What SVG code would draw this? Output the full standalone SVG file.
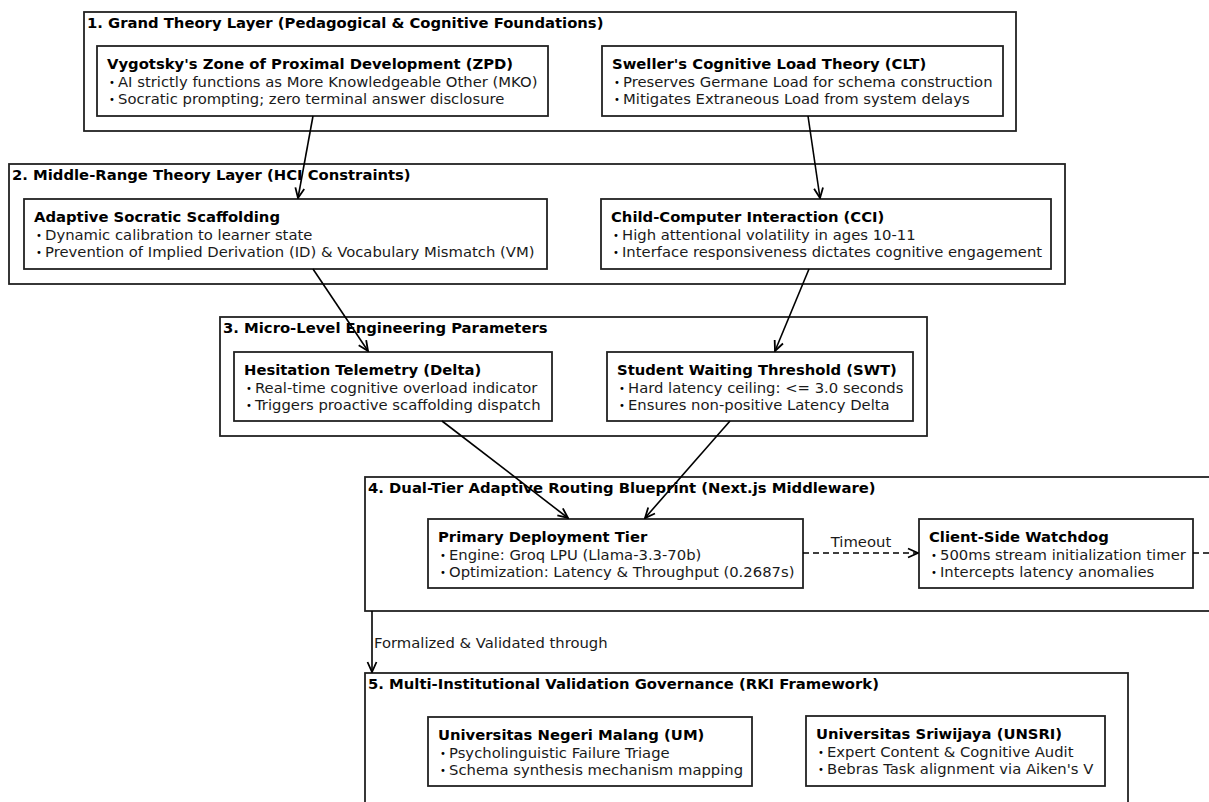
<svg xmlns="http://www.w3.org/2000/svg" width="1209" height="802" viewBox="0 0 1209 802">
<defs>
<style>
.layer{fill:#fff;stroke:#222;stroke-width:1.8}
.box{fill:#fff;stroke:#222;stroke-width:1.8}
.lt{font-family:"DejaVu Sans",sans-serif;font-size:14.8px;font-weight:bold;fill:#000}
.bt{font-family:"DejaVu Sans",sans-serif;font-size:14.8px;font-weight:bold;fill:#000}
.tx{font-family:"DejaVu Sans",sans-serif;font-size:14.8px;fill:#1a1a1a}
.bu{font-family:"DejaVu Sans",sans-serif;font-size:10px;fill:#000}
.edge{fill:none;stroke:#000;stroke-width:1.6}
.dash{stroke-dasharray:6,4}
.el{font-family:"DejaVu Sans",sans-serif;font-size:14.8px;fill:#1a1a1a}
</style>
<marker id="arr" viewBox="0 0 12 12" refX="11" refY="6" markerWidth="12" markerHeight="12" markerUnits="userSpaceOnUse" orient="auto">
<path d="M1,1.5 L11,6 L1,10.5" fill="none" stroke="#000" stroke-width="1.8"/>
</marker>
</defs>
<rect width="1209" height="802" fill="#fff"/>

<g id="layer1">
<rect class="layer" x="84" y="12" width="932" height="119"/>
<text class="lt" x="87" y="28">1. Grand Theory Layer (Pedagogical &amp; Cognitive Foundations)</text>
</g>
<g id="layer2">
<rect class="layer" x="9" y="164" width="1056" height="120"/>
<text class="lt" x="12" y="180">2. Middle-Range Theory Layer (HCI Constraints)</text>
</g>
<g id="layer3">
<rect class="layer" x="220" y="317" width="707" height="119"/>
<text class="lt" x="223" y="333">3. Micro-Level Engineering Parameters</text>
</g>
<g id="layer4">
<rect class="layer" x="365" y="477" width="870" height="134"/>
<text class="lt" x="368" y="493">4. Dual-Tier Adaptive Routing Blueprint (Next.js Middleware)</text>
</g>
<g id="layer5">
<rect class="layer" x="365" y="673" width="763" height="160"/>
<text class="lt" x="368" y="689">5. Multi-Institutional Validation Governance (RKI Framework)</text>
</g>

<g id="zpd">
<rect class="box" x="97" y="46" width="451" height="70"/>
<text class="bt" x="107" y="69">Vygotsky's Zone of Proximal Development (ZPD)</text>
<text class="bu" x="109" y="86">•</text><text class="tx" x="118" y="87">AI strictly functions as More Knowledgeable Other (MKO)</text>
<text class="bu" x="109" y="103">•</text><text class="tx" x="118" y="104">Socratic prompting; zero terminal answer disclosure</text>
</g>
<g id="clt">
<rect class="box" x="602" y="46" width="401" height="70"/>
<text class="bt" x="612" y="69">Sweller's Cognitive Load Theory (CLT)</text>
<text class="bu" x="614" y="86">•</text><text class="tx" x="623" y="87">Preserves Germane Load for schema construction</text>
<text class="bu" x="614" y="103">•</text><text class="tx" x="623" y="104">Mitigates Extraneous Load from system delays</text>
</g>
<g id="scaffolding">
<rect class="box" x="24" y="199" width="523" height="70"/>
<text class="bt" x="34" y="222">Adaptive Socratic Scaffolding</text>
<text class="bu" x="36" y="239">•</text><text class="tx" x="45" y="240">Dynamic calibration to learner state</text>
<text class="bu" x="36" y="256">•</text><text class="tx" x="45" y="257">Prevention of Implied Derivation (ID) &amp; Vocabulary Mismatch (VM)</text>
</g>
<g id="cci">
<rect class="box" x="601" y="199" width="450" height="70"/>
<text class="bt" x="611" y="222">Child-Computer Interaction (CCI)</text>
<text class="bu" x="613" y="239">•</text><text class="tx" x="622" y="240">High attentional volatility in ages 10-11</text>
<text class="bu" x="613" y="256">•</text><text class="tx" x="622" y="257">Interface responsiveness dictates cognitive engagement</text>
</g>
<g id="hesitation">
<rect class="box" x="234" y="352" width="318" height="69"/>
<text class="bt" x="244" y="375">Hesitation Telemetry (Delta)</text>
<text class="bu" x="246" y="392">•</text><text class="tx" x="255" y="393">Real-time cognitive overload indicator</text>
<text class="bu" x="246" y="409">•</text><text class="tx" x="255" y="410">Triggers proactive scaffolding dispatch</text>
</g>
<g id="swt">
<rect class="box" x="607" y="352" width="306" height="69"/>
<text class="bt" x="617" y="375">Student Waiting Threshold (SWT)</text>
<text class="bu" x="619" y="392">•</text><text class="tx" x="628" y="393">Hard latency ceiling: &lt;= 3.0 seconds</text>
<text class="bu" x="619" y="409">•</text><text class="tx" x="628" y="410">Ensures non-positive Latency Delta</text>
</g>
<g id="primary">
<rect class="box" x="428" y="519" width="375" height="69"/>
<text class="bt" x="438" y="542">Primary Deployment Tier</text>
<text class="bu" x="440" y="559">•</text><text class="tx" x="449" y="560">Engine: Groq LPU (Llama-3.3-70b)</text>
<text class="bu" x="440" y="576">•</text><text class="tx" x="449" y="577">Optimization: Latency &amp; Throughput (0.2687s)</text>
</g>
<g id="watchdog">
<rect class="box" x="919" y="519" width="274" height="69"/>
<text class="bt" x="929" y="542">Client-Side Watchdog</text>
<text class="bu" x="931" y="559">•</text><text class="tx" x="940" y="560">500ms stream initialization timer</text>
<text class="bu" x="931" y="576">•</text><text class="tx" x="940" y="577">Intercepts latency anomalies</text>
</g>
<g id="um">
<rect class="box" x="428" y="717" width="324" height="69"/>
<text class="bt" x="438" y="740">Universitas Negeri Malang (UM)</text>
<text class="bu" x="440" y="757">•</text><text class="tx" x="449" y="758">Psycholinguistic Failure Triage</text>
<text class="bu" x="440" y="774">•</text><text class="tx" x="449" y="775">Schema synthesis mechanism mapping</text>
</g>
<g id="unsri">
<rect class="box" x="806" y="716" width="299" height="70"/>
<text class="bt" x="816" y="739">Universitas Sriwijaya (UNSRI)</text>
<text class="bu" x="818" y="756">•</text><text class="tx" x="827" y="757">Expert Content &amp; Cognitive Audit</text>
<text class="bu" x="818" y="773">•</text><text class="tx" x="827" y="774">Bebras Task alignment via Aiken's V</text>
</g>

<g id="connectors">
<path class="edge" d="M313,116 L298,198" marker-end="url(#arr)"/>
<path class="edge" d="M808,116 L820,198" marker-end="url(#arr)"/>
<path class="edge" d="M313,269 L368,351" marker-end="url(#arr)"/>
<path class="edge" d="M809,269 L775,351" marker-end="url(#arr)"/>
<path class="edge" d="M442,421 L568,518" marker-end="url(#arr)"/>
<path class="edge" d="M730,421 L645,518" marker-end="url(#arr)"/>
<path class="edge dash" d="M803,553 L918,553" marker-end="url(#arr)"/>
<text class="el" x="861" y="547" text-anchor="middle">Timeout</text>
<path class="edge dash" d="M1193,553 L1215,553"/>
<path class="edge" d="M372,611 L372,672" marker-end="url(#arr)"/>
<text class="el" x="374" y="648">Formalized &amp; Validated through</text>
</g>
</svg>
